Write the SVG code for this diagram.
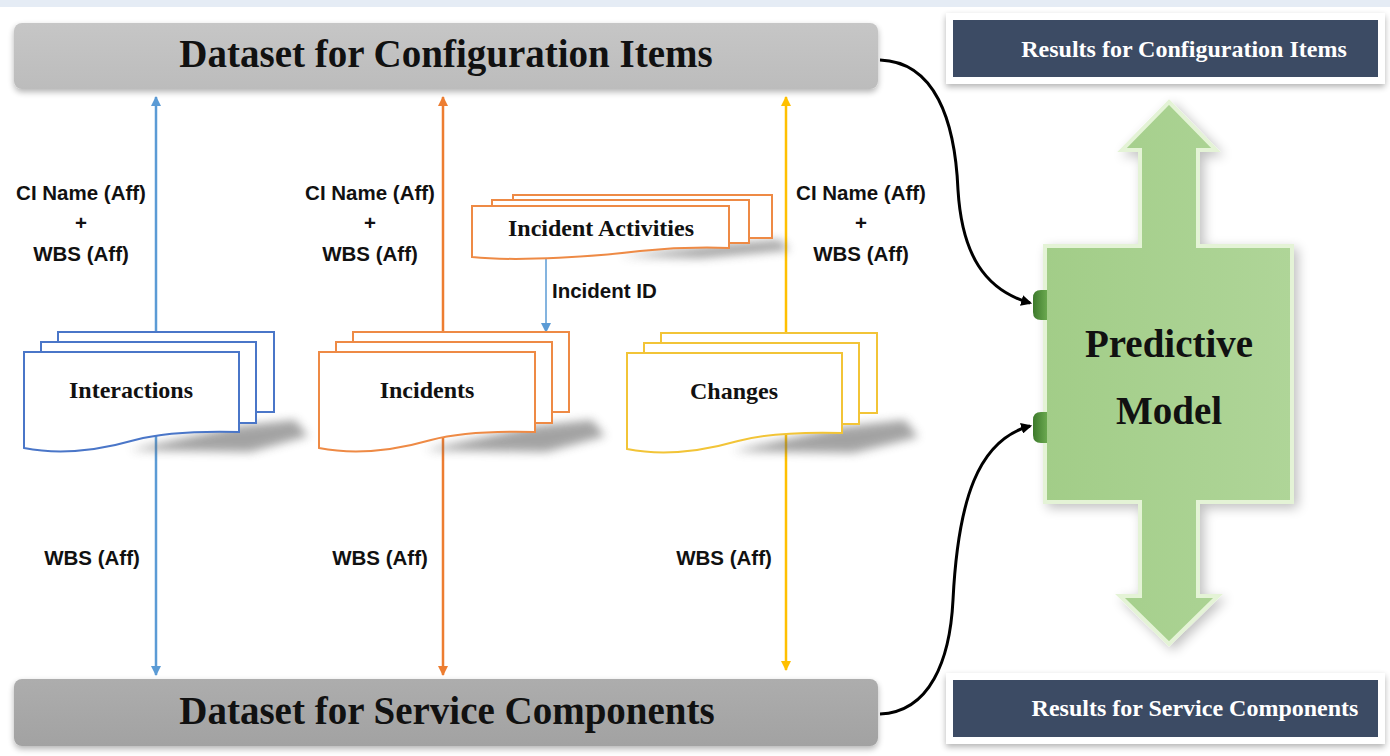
<svg xmlns="http://www.w3.org/2000/svg" width="1390" height="756" viewBox="0 0 1390 756">
<defs>
<style>
.ser{font-family:"Liberation Serif","Times New Roman",serif;font-weight:bold;fill:#111}
.san{font-family:"Liberation Sans",Arial,sans-serif;font-weight:bold;fill:#111;font-size:20.5px}
.doc{fill:#fff;stroke-width:2}
.blue{stroke:#4a76c8}
.orng{stroke:#ee8a45}
.yell{stroke:#f2c437}
.shd{fill:#666;opacity:.6;filter:url(#blur)}
.res{fill:#3c4b64}
.resw{fill:#fff;filter:url(#ds)}
.rtext{font-size:24px;fill:#fff}
</style>
<filter id="blur" x="-50%" y="-100%" width="200%" height="300%"><feGaussianBlur stdDeviation="5"/></filter>
<filter id="ds" x="-10%" y="-30%" width="120%" height="170%"><feGaussianBlur in="SourceAlpha" stdDeviation="3"/><feOffset dx="0" dy="3"/><feComponentTransfer><feFuncA type="linear" slope="0.3"/></feComponentTransfer><feMerge><feMergeNode/><feMergeNode in="SourceGraphic"/></feMerge></filter>
<filter id="gs" x="-20%" y="-10%" width="140%" height="120%"><feGaussianBlur in="SourceAlpha" stdDeviation="6"/><feOffset dx="4" dy="4"/><feComponentTransfer><feFuncA type="linear" slope="0.25"/></feComponentTransfer><feMerge><feMergeNode/><feMergeNode in="SourceGraphic"/></feMerge></filter>
<linearGradient id="gTop" x1="0" y1="0" x2="0" y2="1"><stop offset="0" stop-color="#c6c6c6"/><stop offset="1" stop-color="#bcbcbc"/></linearGradient>
<linearGradient id="gBot" x1="0" y1="0" x2="0" y2="1"><stop offset="0" stop-color="#adadad"/><stop offset="1" stop-color="#a2a2a2"/></linearGradient>
<linearGradient id="gGreen" x1="0" y1="0" x2="1" y2="0"><stop offset="0" stop-color="#a2cd88"/><stop offset="1" stop-color="#afd598"/></linearGradient>
<linearGradient id="gTab" x1="0" y1="0" x2="1" y2="0"><stop offset="0" stop-color="#3d7a2c"/><stop offset="1" stop-color="#6aa84f"/></linearGradient>
<marker id="mb" viewBox="0 0 10 10" refX="9" refY="5" markerWidth="10" markerHeight="10" markerUnits="userSpaceOnUse" orient="auto-start-reverse"><path d="M0,0 L10,5 L0,10 Z" fill="#5b9bd5"/></marker>
<marker id="mo" viewBox="0 0 10 10" refX="9" refY="5" markerWidth="10" markerHeight="10" markerUnits="userSpaceOnUse" orient="auto-start-reverse"><path d="M0,0 L10,5 L0,10 Z" fill="#ed7d31"/></marker>
<marker id="my" viewBox="0 0 10 10" refX="9" refY="5" markerWidth="10" markerHeight="10" markerUnits="userSpaceOnUse" orient="auto-start-reverse"><path d="M0,0 L10,5 L0,10 Z" fill="#ffc000"/></marker>
<marker id="mk" viewBox="0 0 10 10" refX="8" refY="5" markerWidth="11" markerHeight="11" markerUnits="userSpaceOnUse" orient="auto"><path d="M0,0 L10,5 L0,10 Z" fill="#000"/></marker>
</defs>

<rect x="0" y="0" width="1390" height="756" fill="#fff"/>
<rect x="0" y="0" width="1390" height="7" fill="#e5ecf5"/>

<g id="connectors" fill="none">
<line x1="156" y1="97" x2="156" y2="675" stroke="#5b9bd5" stroke-width="2.5" marker-start="url(#mb)" marker-end="url(#mb)"/>
<line x1="443" y1="97" x2="443" y2="675" stroke="#ed7d31" stroke-width="2.5" marker-start="url(#mo)" marker-end="url(#mo)"/>
<line x1="786" y1="97" x2="786" y2="670" stroke="#ffc000" stroke-width="2.5" marker-start="url(#my)" marker-end="url(#my)"/>
<line x1="546" y1="256" x2="546" y2="332" stroke="#5b9bd5" stroke-width="1.5" marker-end="url(#mb)"/>
<path d="M880,60 C935,62 955,120 958,190 C962,255 985,290 1030,303" stroke="#000" stroke-width="3" marker-end="url(#mk)"/>
<path d="M880,714 C930,712 950,660 953,600 C958,500 978,440 1030,426" stroke="#000" stroke-width="3" marker-end="url(#mk)"/>
<text class="san" x="81" y="200" text-anchor="middle">CI Name (Aff)</text>
<text class="san" x="81" y="230" text-anchor="middle">+</text>
<text class="san" x="81" y="261" text-anchor="middle">WBS (Aff)</text>
<text class="san" x="370" y="200" text-anchor="middle">CI Name (Aff)</text>
<text class="san" x="370" y="230" text-anchor="middle">+</text>
<text class="san" x="370" y="261" text-anchor="middle">WBS (Aff)</text>
<text class="san" x="861" y="200" text-anchor="middle">CI Name (Aff)</text>
<text class="san" x="861" y="230" text-anchor="middle">+</text>
<text class="san" x="861" y="261" text-anchor="middle">WBS (Aff)</text>
<text class="san" x="92" y="565" text-anchor="middle">WBS (Aff)</text>
<text class="san" x="380" y="565" text-anchor="middle">WBS (Aff)</text>
<text class="san" x="724" y="565" text-anchor="middle">WBS (Aff)</text>
<text class="san" x="552" y="298">Incident ID</text>
</g>

<g id="ci-dataset">
<rect x="14" y="23" width="864" height="66" rx="8" fill="url(#gTop)" filter="url(#ds)"/>
<text class="ser" x="446" y="67" font-size="39" text-anchor="middle">Dataset for Configuration Items</text>
</g>

<g id="sc-dataset">
<rect x="14" y="679" width="864" height="67" rx="8" fill="url(#gBot)" filter="url(#ds)"/>
<text class="ser" x="447" y="724" font-size="39" text-anchor="middle">Dataset for Service Components</text>
</g>

<g id="interactions">
<polygon class="shd" points="130,450 239,426 295,420 308,436 250,452"/>
<rect class="doc blue" x="58" y="332" width="216" height="80"/>
<rect class="doc blue" x="41" y="342" width="215" height="81"/>
<path class="doc blue" d="M24,352 H239 V432 C200,431 165,432 135,440 C100,450 60,455 24,448 Z"/>
<text class="ser" x="131" y="398" font-size="24" text-anchor="middle">Interactions</text>
</g>

<g id="incidents">
<polygon class="shd" points="425,450 535,426 592,420 605,436 546,452"/>
<rect class="doc orng" x="353" y="332" width="216" height="80"/>
<rect class="doc orng" x="336" y="342" width="216" height="81"/>
<path class="doc orng" d="M319,352 H535 V432 C496,431 461,432 431,440 C396,450 355,455 319,448 Z"/>
<text class="ser" x="427" y="398" font-size="24" text-anchor="middle">Incidents</text>
</g>

<g id="incident-activities">
<polygon class="shd" points="620,256 729,244 780,240 790,250 700,258"/>
<rect class="doc orng" x="513" y="195" width="259" height="43"/>
<rect class="doc orng" x="492" y="200" width="257" height="43"/>
<path class="doc orng" d="M472,206 H729 V248 C700,247 670,248 640,251 C600,256 520,262 472,257 Z"/>
<text class="ser" x="601" y="236" font-size="24" text-anchor="middle">Incident Activities</text>
</g>

<g id="changes">
<polygon class="shd" points="733,451 842,427 905,420 918,437 853,453"/>
<rect class="doc yell" x="661" y="333" width="216" height="80"/>
<rect class="doc yell" x="644" y="343" width="215" height="81"/>
<path class="doc yell" d="M627,353 H842 V433 C803,432 768,433 738,441 C703,451 663,456 627,449 Z"/>
<text class="ser" x="734" y="399" font-size="24" text-anchor="middle">Changes</text>
</g>

<g id="predictive-model">
<polygon points="1169,102 1216,150 1198,150 1198,246 1292,246 1292,502 1198,502 1198,596 1218,596 1169,644 1120,596 1140,596 1140,502 1045,502 1045,246 1140,246 1140,150 1122,150" fill="url(#gGreen)" stroke="#e4f3d6" stroke-width="4" stroke-linejoin="miter" filter="url(#gs)"/>
<path d="M1047,290 H1041 Q1033,290 1033,298 V312 Q1033,320 1041,320 H1047 Z" fill="url(#gTab)"/>
<path d="M1047,412 H1041 Q1033,412 1033,420 V435 Q1033,443 1041,443 H1047 Z" fill="url(#gTab)"/>
<text class="ser" x="1169" y="357" font-size="39" text-anchor="middle">Predictive</text>
<text class="ser" x="1169" y="424" font-size="39" text-anchor="middle">Model</text>
</g>

<g id="results-ci">
<rect class="resw" x="946" y="13" width="439" height="71"/>
<rect class="res" x="953" y="20" width="425" height="57"/>
<text class="ser rtext" x="1184" y="57" text-anchor="middle">Results for Configuration Items</text>
</g>

<g id="results-sc">
<rect class="resw" x="946" y="673" width="439" height="71"/>
<rect class="res" x="953" y="680" width="425" height="57"/>
<text class="ser rtext" x="1195" y="716" text-anchor="middle">Results for Service Components</text>
</g>
</svg>
